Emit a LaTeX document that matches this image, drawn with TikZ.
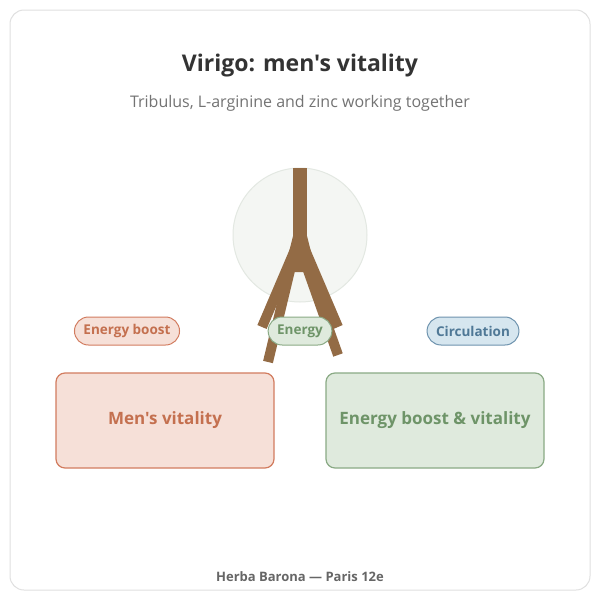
\documentclass[tikz,border=0pt]{standalone}
\usepackage{fontspec}
\setmainfont{Open Sans}[BoldFont={Open Sans Bold},Ligatures=TeXOff]
\begin{document}
\begin{tikzpicture}[x=1pt,y=-1pt,
  pill/.style={draw,rounded corners=14pt,minimum height=28pt,line width=1pt,font=\bfseries\fontsize{13.5}{15}\selectfont,inner xsep=9pt},
  box/.style={draw,rounded corners=9pt,minimum width=218pt,minimum height=95pt,line width=1.2pt,font=\bfseries\fontsize{17}{19}\selectfont},
  br/.style={line width=10pt,color=brn}]
\definecolor{brn}{HTML}{936B45}
\definecolor{cf}{HTML}{F4F6F3}\definecolor{cs}{HTML}{E3E8E2}
\definecolor{rf}{HTML}{F6E0D8}\definecolor{rs}{HTML}{D27C5F}\definecolor{rt}{HTML}{C4704F}
\definecolor{gf}{HTML}{DFEADD}\definecolor{gs}{HTML}{8AAA85}\definecolor{gt}{HTML}{6E9468}
\definecolor{bf}{HTML}{D6E6EF}\definecolor{bs}{HTML}{6E93AE}\definecolor{bt}{HTML}{4F7896}
\useasboundingbox (0,0) rectangle (600,600);
\fill[white] (0,0) rectangle (600,600);
\draw[rounded corners=14pt,draw=black!12,line width=1pt] (10,10) rectangle (590,590);
\node (title) at (300,66) {\bfseries\fontsize{23}{26}\selectfont\color{black!80}Virigo: men's vitality};
\node (sub) at (300,103) {\fontsize{16}{18}\selectfont\color{black!55}Tribulus, L-arginine and zinc working together};
\node[circle,draw=cs,fill=cf,minimum size=134pt,line width=1pt] (c) at (300,235) {};
\coordinate (j) at (300,238);
\draw[line width=14pt,brn] (300,168) -- (j);
\draw[br] (j) -- (262,327);
\draw[br] (292,262) -- (268,362);
\draw[br] (j) -- (338,327);
\draw[br] (305,262) -- (338,355);
\fill[brn] (293,236) -- (307,236) -- (316,272) -- (284,272) -- cycle;
\node[pill,fill=rf,draw=rs,text=rt] (p1) at (127,331) {Energy boost};
\node[pill,fill=gf,draw=gs,text=gt] (p2) at (300,331) {Energy};
\node[pill,fill=bf,draw=bs,text=bt] (p3) at (473,331) {Circulation};
\node[box,fill=rf,draw=rs,text=rt] (b1) at (165,420.5) {Men's vitality};
\node[box,fill=gf,draw=gs,text=gt] (b2) at (435,420.5) {Energy boost \& vitality};
\node (foot) at (300,577) {\bfseries\fontsize{13}{15}\selectfont\color{black!60}Herba Barona — Paris 12e};
\end{tikzpicture}
\end{document}
